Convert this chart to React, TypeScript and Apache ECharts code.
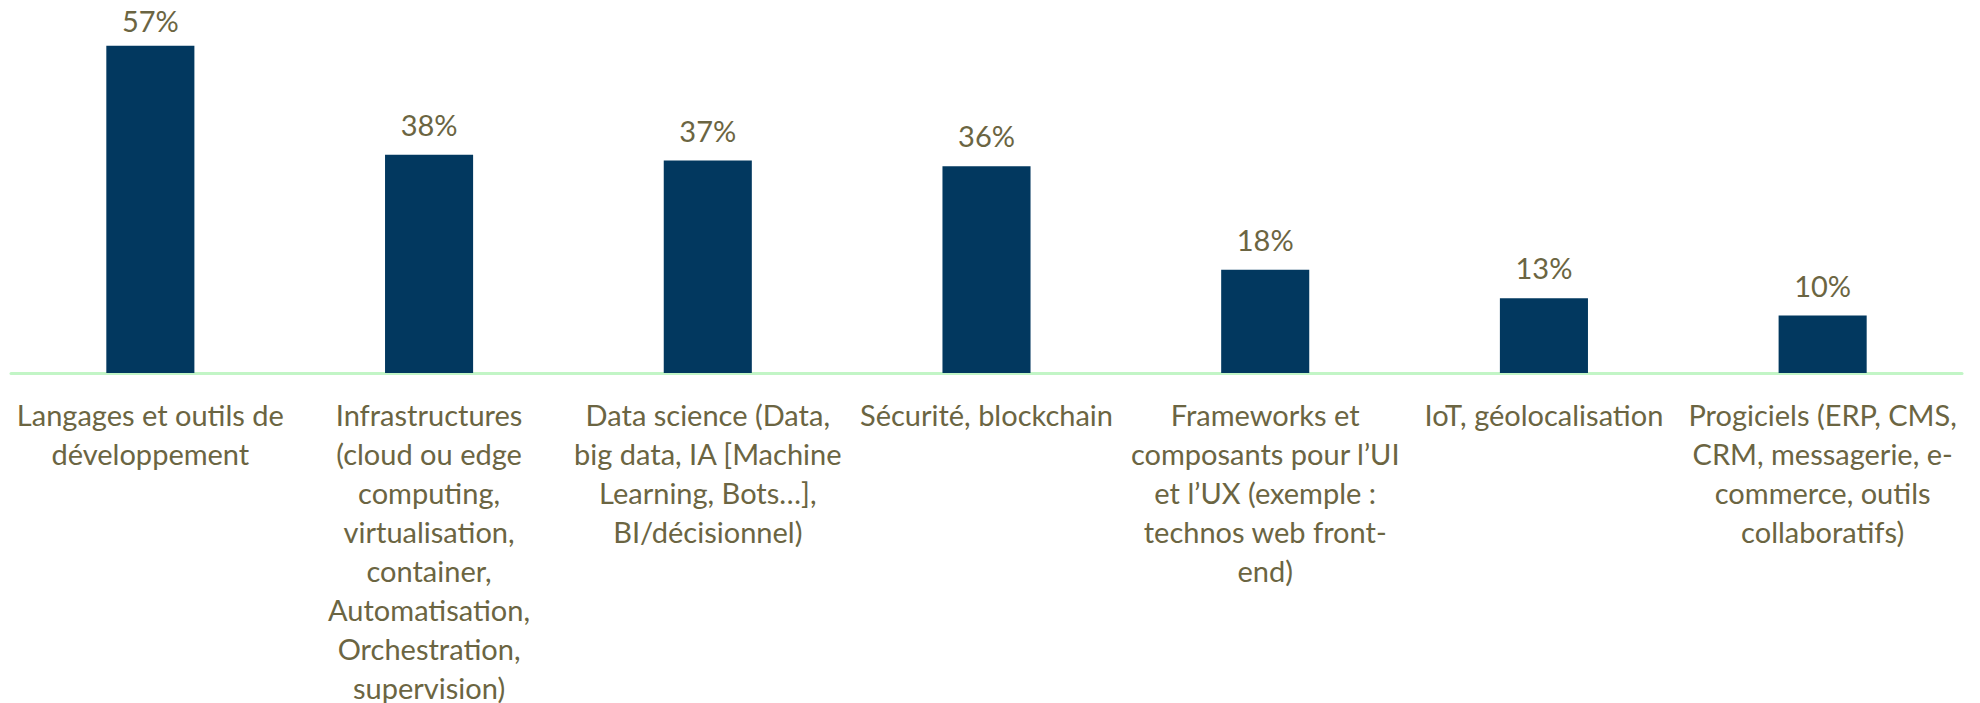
import React, { useEffect, useRef } from "react";
import * as echarts from "echarts";

const categories: string[] = [
  "Langages et outils de\ndéveloppement",
  "Infrastructures\n(cloud ou edge\ncomputing,\nvirtualisation,\ncontainer,\nAutomatisation,\nOrchestration,\nsupervision)",
  "Data science (Data,\nbig data, IA [Machine\nLearning, Bots…],\nBI/décisionnel)",
  "Sécurité, blockchain",
  "Frameworks et\ncomposants pour l’UI\net l’UX (exemple :\ntechnos web front-\nend)",
  "IoT, géolocalisation",
  "Progiciels (ERP, CMS,\nCRM, messagerie, e-\ncommerce, outils\ncollaboratifs)",
];

const values: number[] = [57, 38, 37, 36, 18, 13, 10];

const TEXT_COLOR = "#6B6542";
const BAR_COLOR = "#02385F";
const AXIS_COLOR = "#C2F5C6";
const FONT = "Lato, 'Open Sans', sans-serif";

export default function App() {
  const ref = useRef<HTMLDivElement>(null);

  useEffect(() => {
    if (!ref.current) return;
    const chart = echarts.init(ref.current, undefined, { renderer: "svg" });
    const maxVal = Math.max(...values);
    chart.setOption({
      animation: false,
      backgroundColor: "#ffffff",
      grid: {
        left: 11,
        right: 18,
        top: 28.5,
        bottom: 330,
        containLabel: false,
        outerBoundsMode: "none",
      },
      xAxis: {
        type: "category",
        data: categories,
        axisLine: { show: true, lineStyle: { color: AXIS_COLOR, width: 3 } },
        axisTick: { show: false },
        axisLabel: {
          interval: 0,
          color: TEXT_COLOR,
          fontFamily: FONT,
          fontSize: 29,
          lineHeight: 39,
          margin: 21.5,
          align: "center",
        },
      },
      yAxis: {
        type: "value",
        min: 0,
        max: 60,
        show: false,
        splitLine: { show: false },
      },
      series: [
        {
          type: "bar",
          data: values.map((v) =>
            v === maxVal ? { value: v, label: { distance: 11 } } : v
          ),
          barWidth: "31.6%",
          itemStyle: { color: BAR_COLOR },
          label: {
            show: true,
            position: "top",
            distance: 16,
            formatter: "{c}%",
            color: TEXT_COLOR,
            fontFamily: FONT,
            fontSize: 29,
          },
        },
      ],
    });
    return () => chart.dispose();
  }, []);

  return (
    <div
      ref={ref}
      style={{ position: "fixed", left: 0, top: 0, width: 1980, height: 703 }}
    />
  );
}
